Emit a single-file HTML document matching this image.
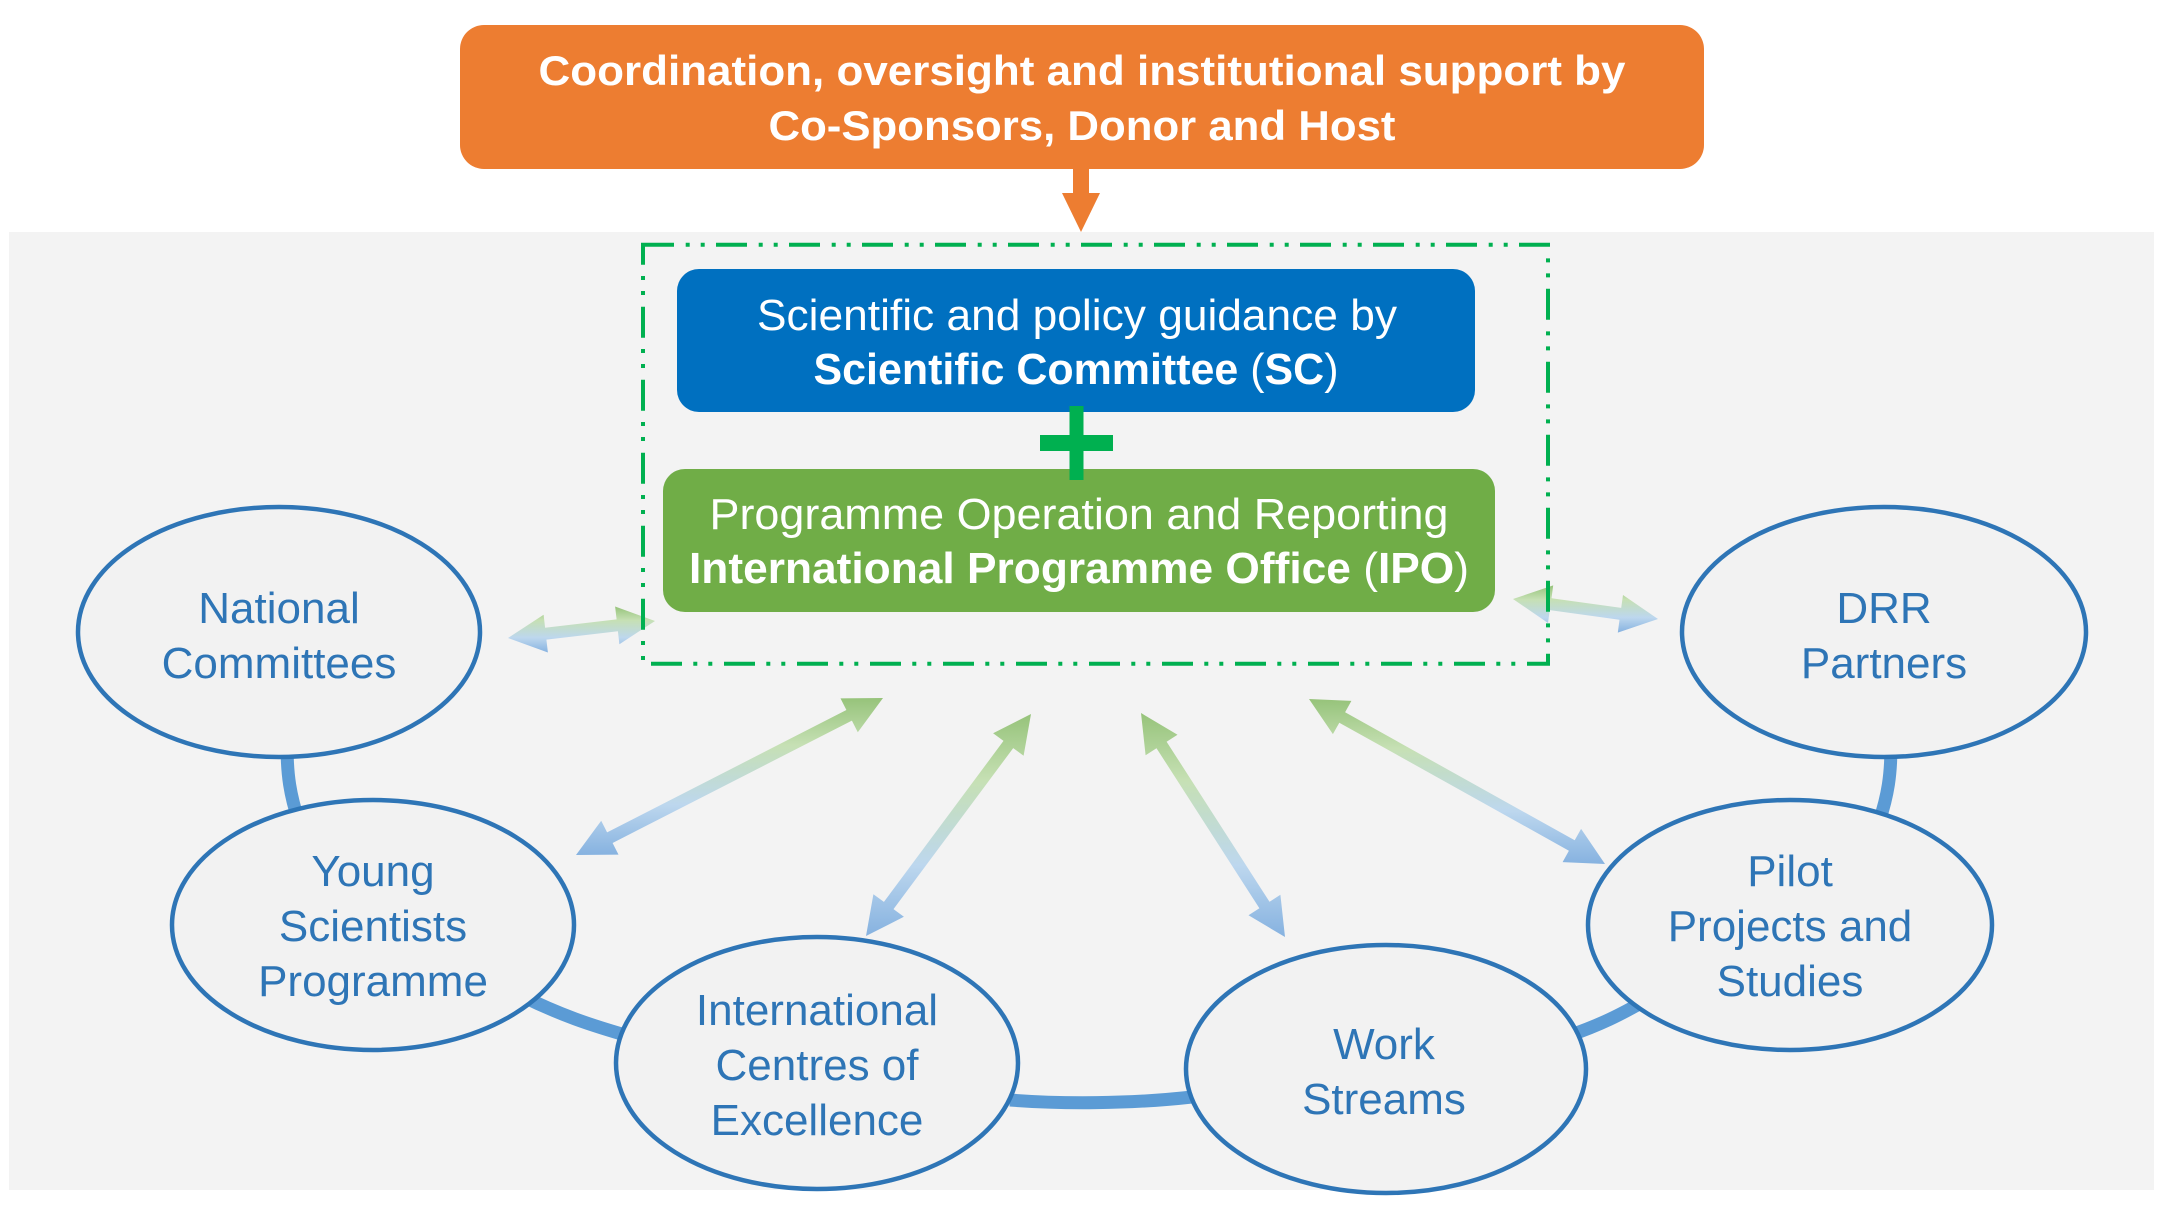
<!DOCTYPE html>
<html>
<head>
<meta charset="utf-8">
<style>
  html, body { margin: 0; padding: 0; background: #ffffff; }
  body { width: 2163px; height: 1205px; overflow: hidden; }
  svg { display: block; }
  .el { font-family: "Liberation Sans", sans-serif; font-size: 44px; fill: #2E75B6; text-anchor: middle; }
  .wt { font-family: "Liberation Sans", sans-serif; fill: #ffffff; text-anchor: middle; }
</style>
</head>
<body>
<svg width="2163" height="1205" viewBox="0 0 2163 1205" xmlns="http://www.w3.org/2000/svg">
  <defs>
    <linearGradient id="ag" x1="0" y1="0" x2="0" y2="1">
      <stop offset="0" stop-color="#96C37A"/>
      <stop offset="0.3" stop-color="#C6E0B4"/>
      <stop offset="0.68" stop-color="#BDD7EE"/>
      <stop offset="1" stop-color="#86B2E0"/>
    </linearGradient>
  </defs>

  <!-- white background -->
  <rect x="0" y="0" width="2163" height="1205" fill="#ffffff"/>
  <!-- gray panel -->
  <rect x="9" y="232" width="2145" height="958" fill="#F3F3F3"/>

  <!-- Orange top box -->
  <rect x="460" y="25" width="1244" height="144" rx="24" ry="24" fill="#ED7D31"/>
  <text class="wt" x="1082" y="85" font-size="42" font-weight="bold" textLength="1087" lengthAdjust="spacingAndGlyphs">Coordination, oversight and institutional support by</text>
  <text class="wt" x="1082" y="140" font-size="42" font-weight="bold" textLength="627" lengthAdjust="spacingAndGlyphs">Co-Sponsors, Donor and Host</text>

  <!-- Orange arrow -->
  <rect x="1073" y="169" width="16" height="26" fill="#ED7D31"/>
  <polygon points="1062,193 1100,193 1081,232" fill="#ED7D31"/>

  <!-- Blue box -->
  <rect x="677" y="269" width="798" height="143" rx="22" ry="22" fill="#0070C0"/>
  <text class="wt" x="1077" y="330" font-size="44" textLength="640" lengthAdjust="spacingAndGlyphs">Scientific and policy guidance by</text>
  <text class="wt" x="1076" y="384" font-size="44" textLength="525" lengthAdjust="spacingAndGlyphs"><tspan font-weight="bold">Scientific Committee</tspan> (<tspan font-weight="bold">SC</tspan>)</text>

  <!-- Green box -->
  <rect x="663" y="469" width="832" height="143" rx="22" ry="22" fill="#70AD47"/>
  <text class="wt" x="1079" y="529" font-size="44" textLength="739" lengthAdjust="spacingAndGlyphs">Programme Operation and Reporting</text>
  <text class="wt" x="1079" y="583" font-size="44" textLength="780" lengthAdjust="spacingAndGlyphs"><tspan font-weight="bold">International Programme Office</tspan> (<tspan font-weight="bold">IPO</tspan>)</text>

  <!-- Plus sign -->
  <rect x="1069.5" y="406" width="14" height="74" fill="#00B050"/>
  <rect x="1040" y="435" width="73" height="16" fill="#00B050"/>

  <!-- Connectors (behind ellipses) -->
  <g fill="none" stroke="#5B9BD5" stroke-width="13">
    <path d="M 287 745 C 287 775, 290 795, 299 822"/>
    <path d="M 1891 745 C 1891 775, 1888 795, 1879 822"/>
    <path d="M 520 995 C 560 1015, 590 1025, 632 1037"/>
    <path d="M 1010 1100 C 1060 1104, 1130 1104, 1192 1097"/>
    <path d="M 1568 1036 C 1600 1025, 1620 1015, 1648 999"/>
  </g>

  <!-- Ellipses -->
  <g fill="#F2F2F2" stroke="#2E75B6" stroke-width="4.5">
    <ellipse cx="279" cy="632" rx="201" ry="125"/>
    <ellipse cx="373" cy="925" rx="201" ry="125"/>
    <ellipse cx="817" cy="1063" rx="201" ry="126"/>
    <ellipse cx="1386" cy="1069" rx="200" ry="124"/>
    <ellipse cx="1790" cy="925" rx="202" ry="125"/>
    <ellipse cx="1884" cy="632" rx="202" ry="125"/>
  </g>

  <!-- Ellipse labels -->
  <text class="el" x="279" y="623">National</text>
  <text class="el" x="279" y="678">Committees</text>

  <text class="el" x="373" y="886">Young</text>
  <text class="el" x="373" y="941">Scientists</text>
  <text class="el" x="373" y="996">Programme</text>

  <text class="el" x="817" y="1025">International</text>
  <text class="el" x="817" y="1080">Centres of</text>
  <text class="el" x="817" y="1135">Excellence</text>

  <text class="el" x="1384" y="1059">Work</text>
  <text class="el" x="1384" y="1114">Streams</text>

  <text class="el" x="1790" y="886">Pilot</text>
  <text class="el" x="1790" y="941">Projects and</text>
  <text class="el" x="1790" y="996">Studies</text>

  <text class="el" x="1884" y="623">DRR</text>
  <text class="el" x="1884" y="678">Partners</text>

  <!-- Double-headed gradient arrows -->
  <g fill="url(#ag)">
    <!-- NC -->
    <polygon points="508,638 543.6,614.8 545.1,627.7 616.6,619.4 615.1,606.5 655,621 619.4,644.2 617.9,631.3 546.4,639.6 547.9,652.5"/>
    <!-- DRR -->
    <polygon points="1513,599 1553.2,585.4 1551.5,598.3 1621.2,607.9 1623.0,595.0 1658,619 1617.8,632.6 1619.5,619.8 1549.8,610.1 1548.0,623.0"/>
    <!-- YSP -->
    <polygon points="883,698 840.5,698.4 846.4,710.0 607.1,832.4 601.2,820.8 576,855 618.5,854.6 612.6,843.0 851.9,720.6 857.8,732.2"/>
    <!-- ICE -->
    <polygon points="1031,714 993.1,733.2 1003.5,740.9 883.9,901.9 873.4,894.2 866,936 903.9,916.8 893.5,909.1 1013.2,748.1 1023.6,755.8"/>
    <!-- WS -->
    <polygon points="1141,713 1145.6,755.2 1156.5,748.2 1259.4,908.3 1248.5,915.3 1285,937 1280.4,894.8 1269.5,901.8 1166.6,741.7 1177.5,734.7"/>
    <!-- Pilot -->
    <polygon points="1309,699 1332.9,734.1 1339.3,722.7 1568.9,850.7 1562.6,862.1 1605,864 1581.1,828.9 1574.7,840.3 1345.1,712.3 1351.4,700.9"/>
  </g>

  <!-- dashed green frame (on top of arrows) -->
  <rect x="643" y="244.7" width="905" height="419" fill="none" stroke="#00B050" stroke-width="4" stroke-dasharray="31 11.7 4 11 4 11.3"/>
</svg>
</body>
</html>
